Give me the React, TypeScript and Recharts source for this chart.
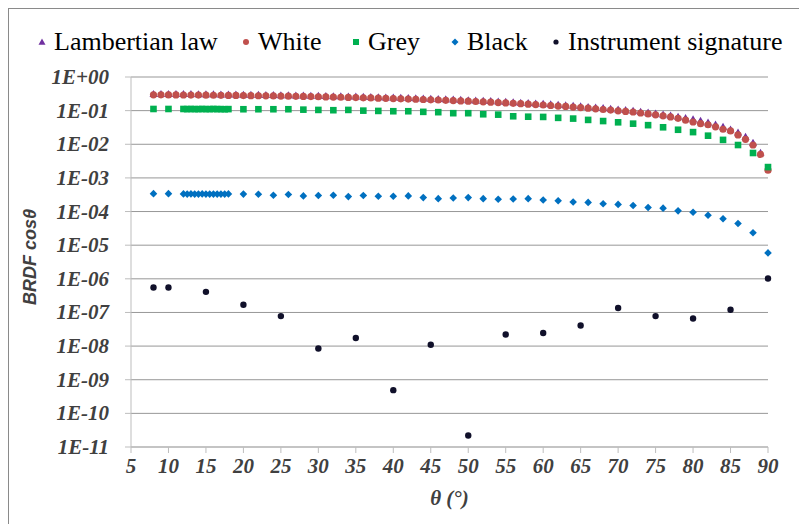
import { ScatterChart, Scatter, XAxis, YAxis, CartesianGrid } from "recharts";

const lambertTheta = [
  8, 9, 10, 11, 12, 13, 14, 15, 16, 17, 18, 19, 20, 21, 22, 23, 24, 25, 26, 27, 28, 29, 30, 31, 32, 33, 34, 35,
  36, 37, 38, 39, 40, 41, 42, 43, 44, 45, 46, 47, 48, 49, 50, 51, 52, 53, 54, 55, 56, 57, 58, 59, 60, 61, 62,
  63, 64, 65, 66, 67, 68, 69, 70, 71, 72, 73, 74, 75, 76, 77, 78, 79, 80, 81, 82, 83, 84, 85, 86, 87, 88, 89,
];
const lambertValues = [
  0.315, 0.314, 0.313, 0.312, 0.311, 0.31, 0.309, 0.307, 0.306, 0.304, 0.303, 0.301, 0.299, 0.297, 0.295,
  0.293, 0.291, 0.288, 0.286, 0.284, 0.281, 0.278, 0.276, 0.273, 0.27, 0.267, 0.264, 0.261, 0.258, 0.254,
  0.251, 0.247, 0.244, 0.24, 0.237, 0.233, 0.229, 0.225, 0.221, 0.217, 0.213, 0.209, 0.205, 0.2, 0.196,
  0.192, 0.187, 0.183, 0.178, 0.173, 0.169, 0.164, 0.159, 0.154, 0.149, 0.145, 0.14, 0.135, 0.129, 0.124,
  0.119, 0.114, 0.109, 0.104, 0.0984, 0.0931, 0.0877, 0.0824, 0.077, 0.0716, 0.0662, 0.0607, 0.0553,
  0.0498, 0.0443, 0.0388, 0.0333, 0.0277, 0.0222, 0.0167, 0.0111, 0.00556,
];

const whiteTheta = [
  8, 9, 10, 11, 12, 13, 14, 15, 16, 17, 18, 19, 20, 21, 22, 23, 24, 25, 26, 27, 28, 29, 30, 31, 32, 33, 34, 35,
  36, 37, 38, 39, 40, 41, 42, 43, 44, 45, 46, 47, 48, 49, 50, 51, 52, 53, 54, 55, 56, 57, 58, 59, 60, 61, 62,
  63, 64, 65, 66, 67, 68, 69, 70, 71, 72, 73, 74, 75, 76, 77, 78, 79, 80, 81, 82, 83, 84, 85, 86, 87, 88, 89, 90,
];
const whiteValues = [
  0.296, 0.295, 0.294, 0.293, 0.292, 0.291, 0.29, 0.289, 0.287, 0.286, 0.284, 0.283, 0.281, 0.279, 0.277,
  0.275, 0.273, 0.271, 0.269, 0.266, 0.264, 0.261, 0.259, 0.256, 0.253, 0.25, 0.247, 0.244, 0.241, 0.238,
  0.235, 0.232, 0.228, 0.225, 0.221, 0.218, 0.214, 0.21, 0.207, 0.203, 0.199, 0.195, 0.191, 0.187, 0.183,
  0.178, 0.174, 0.17, 0.165, 0.161, 0.156, 0.151, 0.147, 0.142, 0.137, 0.133, 0.128, 0.123, 0.118, 0.113,
  0.108, 0.104, 0.099, 0.095, 0.091, 0.085, 0.08, 0.075, 0.07, 0.065, 0.059, 0.052, 0.046, 0.041, 0.038,
  0.033, 0.028, 0.025, 0.019, 0.014, 0.0095, 0.005, 0.0017,
];

const sampleTheta = [
  8, 10, 12, 12.5, 13, 13.5, 14, 14.5, 15, 15.5, 16, 16.5, 17, 17.5, 18, 20, 22, 24, 26, 28, 30, 32, 34, 36,
  38, 40, 42, 44, 46, 48, 50, 52, 54, 56, 58, 60, 62, 64, 66, 68, 70, 72, 74, 76, 78, 80, 82, 84, 86, 88, 90,
];
const greyValues = [
  0.112, 0.112, 0.112, 0.111, 0.112, 0.111, 0.111, 0.112, 0.111, 0.111, 0.112, 0.111, 0.111, 0.11, 0.111,
  0.11, 0.11, 0.11, 0.11, 0.107, 0.105, 0.103, 0.105, 0.1, 0.098, 0.096, 0.096, 0.092, 0.09, 0.084, 0.084,
  0.078, 0.076, 0.068, 0.066, 0.065, 0.061, 0.058, 0.053, 0.049, 0.045, 0.041, 0.037, 0.032, 0.027, 0.023,
  0.018, 0.0135, 0.0095, 0.0055, 0.0021,
];
const blackValues = [
  3.4e-4, 3.4e-4, 3.35e-4, 3.3e-4, 3.35e-4, 3.3e-4, 3.3e-4, 3.35e-4, 3.3e-4, 3.3e-4, 3.3e-4, 3.3e-4,
  3.3e-4, 3.3e-4, 3.35e-4, 3.3e-4, 3.27e-4, 3.05e-4, 3.2e-4, 2.92e-4, 2.99e-4, 3.05e-4, 2.78e-4, 2.99e-4,
  2.85e-4, 2.85e-4, 2.92e-4, 2.6e-4, 2.42e-4, 2.54e-4, 2.6e-4, 2.42e-4, 2.31e-4, 2.37e-4, 2.42e-4, 2.2e-4,
  2.1e-4, 1.92e-4, 1.87e-4, 1.71e-4, 1.63e-4, 1.52e-4, 1.32e-4, 1.26e-4, 1.05e-4, 9.55e-5, 7.8e-5, 6.1e-5,
  4.4e-5, 2.35e-5, 5.9e-6,
];

const instrumentTheta = [8, 10, 15, 20, 25, 30, 35, 40, 45, 50, 55, 60, 65, 70, 75, 80, 85, 90];
const instrumentValues = [
  5.5e-7, 5.5e-7, 4.1e-7, 1.7e-7, 7.8e-8, 8.5e-9, 1.74e-8, 4.9e-10, 1.1e-8, 2.2e-11, 2.2e-8, 2.45e-8,
  4.1e-8, 1.35e-7, 7.8e-8, 6.6e-8, 1.2e-7, 1.02e-6,
];

const xTicks = [5, 10, 15, 20, 25, 30, 35, 40, 45, 50, 55, 60, 65, 70, 75, 80, 85, 90];
const yTicks = [1, 1e-1, 1e-2, 1e-3, 1e-4, 1e-5, 1e-6, 1e-7, 1e-8, 1e-9, 1e-10, 1e-11];
const yTickLabels = [
  "1E+00", "1E-01", "1E-02", "1E-03", "1E-04", "1E-05", "1E-06", "1E-07", "1E-08", "1E-09", "1E-10", "1E-11",
];

const COLORS = {
  lambert: "#7030a0",
  white: "#c0504d",
  grey: "#00b050",
  black: "#0070c0",
  instrument: "#10102a",
};

const SERIF = "Liberation Serif";
const SANS = "Liberation Sans";

const zip = (xs: number[], ys: number[]) => xs.map((x, i) => ({ x, y: ys[i] }));

const lambertData = zip(lambertTheta, lambertValues);
const whiteData = zip(whiteTheta, whiteValues);
const greyData = zip(sampleTheta, greyValues);
const blackData = zip(sampleTheta, blackValues);
const instrumentData = zip(instrumentTheta, instrumentValues);

const Triangle = ({ cx, cy, fill, s = 4 }: any) => (
  <polygon points={`${cx},${cy - s} ${cx + s},${cy + s * 0.75} ${cx - s},${cy + s * 0.75}`} fill={fill} />
);
const Dot = ({ cx, cy, fill, r = 3.5 }: any) => <circle cx={cx} cy={cy} r={r} fill={fill} />;
const Square = ({ cx, cy, fill, s = 3.3 }: any) => (
  <rect x={cx - s} y={cy - s} width={s * 2} height={s * 2} fill={fill} />
);
const Diamond = ({ cx, cy, fill, s = 3.8 }: any) => (
  <polygon points={`${cx},${cy - s} ${cx + s},${cy} ${cx},${cy + s} ${cx - s},${cy}`} fill={fill} />
);

const legendItems = [
  { label: "Lambertian law", left: 36, shape: "tri", color: COLORS.lambert },
  { label: "White", left: 240, shape: "dot", color: COLORS.white },
  { label: "Grey", left: 350, shape: "sq", color: COLORS.grey },
  { label: "Black", left: 449, shape: "dia", color: COLORS.black },
  { label: "Instrument signature", left: 550, shape: "dot2", color: COLORS.instrument },
];

function LegendMarker({ shape, color }: { shape: string; color: string }) {
  return (
    <svg width={12} height={12} style={{ marginRight: 6 }}>
      {shape === "tri" && <Triangle cx={6} cy={6} s={3.5} fill={color} />}
      {shape === "dot" && <Dot cx={6} cy={6} r={3} fill={color} />}
      {shape === "dot2" && <Dot cx={6} cy={6} r={2.6} fill={color} />}
      {shape === "sq" && <Square cx={6} cy={6} s={3} fill={color} />}
      {shape === "dia" && <Diamond cx={6} cy={6} s={3.5} fill={color} />}
    </svg>
  );
}

const labelStyle = {
  fill: "#404040",
  fontSize: 21,
  fontWeight: 700,
  fontStyle: "italic",
  fontFamily: SERIF,
};

const XTick = ({ x, y, payload }: any) => (
  <text x={x} y={y} dy={15} textAnchor="middle" style={labelStyle}>
    {payload.value}
  </text>
);

const YTick = ({ x, y, payload }: any) => (
  <text x={x} y={y} dy={7} textAnchor="end" style={labelStyle}>
    {yTickLabels[Math.round(-Math.log10(payload.value))]}
  </text>
);

export default function App() {
  return (
    <div
      style={{
        position: "absolute",
        left: 0,
        top: 0,
        width: 799,
        height: 524,
        overflow: "hidden",
        background: "#fff",
        fontFamily: SERIF,
      }}
    >
      <div
        style={{
          position: "absolute",
          left: 8,
          top: 8,
          width: 820,
          height: 540,
          border: "1px solid #8a8a8a",
        }}
      />
      {legendItems.map((item) => (
        <div
          key={item.label}
          style={{
            position: "absolute",
            left: item.left,
            top: 27,
            height: 30,
            display: "flex",
            alignItems: "center",
            fontFamily: SERIF,
            fontSize: 26,
            color: "#000",
            whiteSpace: "nowrap",
          }}
        >
          <LegendMarker shape={item.shape} color={item.color} />
          {item.label}
        </div>
      ))}
      <ScatterChart width={799} height={524} margin={{ top: 77, right: 31, bottom: 0, left: 0 }}>
        <CartesianGrid vertical={false} stroke="#979797" />
        <XAxis
          type="number"
          dataKey="x"
          domain={[5, 90]}
          ticks={xTicks}
          interval={0}
          height={77}
          tickSize={6}
          tickMargin={5}
          stroke="#bdbdbd"
          tick={<XTick />}
          label={{
            value: "θ (°)",
            position: "insideBottom",
            offset: 19,
            style: labelStyle,
          }}
        />
        <YAxis
          type="number"
          dataKey="y"
          scale="log"
          domain={[1e-11, 1]}
          allowDataOverflow
          ticks={yTicks}
          interval={0}
          width={131}
          tickSize={6}
          tickMargin={16}
          stroke="#bdbdbd"
          tick={<YTick />}
          label={{
            value: "BRDF cosθ",
            angle: -90,
            position: "insideLeft",
            offset: 30,
            dy: -5,
            style: {
              textAnchor: "middle",
              fill: "#404040",
              fontSize: 18,
              fontWeight: 700,
              fontStyle: "italic",
              fontFamily: SANS,
            },
          }}
        />
        <Scatter
          data={lambertData}
          isAnimationActive={false}
          fill={COLORS.lambert}
          shape={(p: any) => <Triangle cx={p.cx} cy={p.cy} fill={COLORS.lambert} />}
        />
        <Scatter
          data={whiteData}
          isAnimationActive={false}
          fill={COLORS.white}
          shape={(p: any) => <Dot cx={p.cx} cy={p.cy} r={3.6} fill={COLORS.white} />}
        />
        <Scatter
          data={greyData}
          isAnimationActive={false}
          fill={COLORS.grey}
          shape={(p: any) => <Square cx={p.cx} cy={p.cy} fill={COLORS.grey} />}
        />
        <Scatter
          data={blackData}
          isAnimationActive={false}
          fill={COLORS.black}
          shape={(p: any) => <Diamond cx={p.cx} cy={p.cy} fill={COLORS.black} />}
        />
        <Scatter
          data={instrumentData}
          isAnimationActive={false}
          fill={COLORS.instrument}
          shape={(p: any) => <Dot cx={p.cx} cy={p.cy} r={3.2} fill={COLORS.instrument} />}
        />
      </ScatterChart>
    </div>
  );
}
